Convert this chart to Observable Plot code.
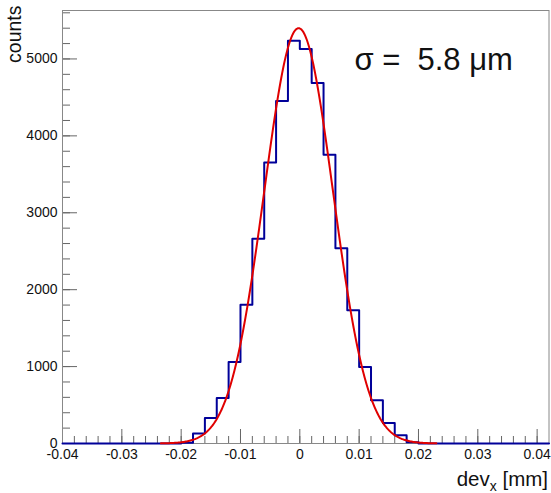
<!DOCTYPE html>
<html><head><meta charset="utf-8">
<script src="https://cdn.jsdelivr.net/npm/d3@7"></script>
<script src="https://cdn.jsdelivr.net/npm/@observablehq/plot@0.6"></script>
<style>
body{margin:0;background:#fff;}
#chart svg{font-family:"Liberation Sans",Arial,Helvetica,sans-serif;background:#fff;}
</style></head><body><div id="chart"></div>
<script>
// histogram: 41 bins of width 0.002 mm starting at -0.04 mm
const binStart = -0.04;
const binWidth = 0.002;
const counts = [0,0,0,0,0,0,0,0,0,0,10,
  130,333,592,1060,1805,2662,3653,4454,5238,
  5130,4688,3753,2540,1731,995,562,268,108,15,
  0,0,0,0,0,0,0,0,0,0,0];
// gaussian fit parameters
const fitConstant = 5400;
const fitMean = -0.0002;
const fitSigma = 0.0058;
const fitRange = [-0.0234, 0.0230];
const sigmaLabel = "σ =\u00a0 5.8 μm";
// axes
const xMajor = [-0.04,-0.03,-0.02,-0.01,0,0.01,0.02,0.03,0.04];
const xMinor = d3.range(-20, 21).map(i => +(i * 0.002).toFixed(3));
const yMajor = [0,1000,2000,3000,4000,5000];
const yMinor = d3.range(0, 29).map(i => i * 200);

const edges = counts.map((_, i) => +(binStart + i * binWidth).toFixed(4));
const steps = counts.map((c, i) => ({x: edges[i], y: c}));
steps.push({x: +(binStart + counts.length * binWidth).toFixed(4), y: counts[counts.length - 1]});

const fitX = d3.range(0, 301).map(i => fitRange[0] + (fitRange[1] - fitRange[0]) * i / 300);
const fit = fitX.map(x => ({x, y: fitConstant * Math.exp(-0.5 * ((x - fitMean) / fitSigma) ** 2)}));

const W = 551, H = 493, mL = 62, mR = 2.5, mT = 10, mB = 50;
const plotW = W - mL - mR, plotH = H - mT - mB;
const axisColor = "#666";
const fmtX = d => d === 0 ? "0" : d.toFixed(2);

const chart = Plot.plot({
  width: W, height: H,
  marginLeft: mL, marginRight: mR, marginTop: mT, marginBottom: mB,
  style: {fontFamily: '"Liberation Sans", Arial, sans-serif', fontSize: "14px", color: "#111", background: "#fff"},
  x: {domain: [-0.04, 0.042], axis: null},
  y: {domain: [0, 5630], axis: null},
  marks: [
    Plot.ruleX(xMinor, {x: d => d, stroke: axisColor, insetTop: plotH - 7}),
    Plot.ruleX(xMajor, {x: d => d, stroke: axisColor, insetTop: plotH - 14}),
    Plot.axisX(xMajor, {tickSize: 0, tickPadding: 6, tickFormat: fmtX, fontSize: 14, fill: "#111", label: null}),
    Plot.ruleY(yMinor, {y: d => d, stroke: axisColor, insetRight: plotW - 8}),
    Plot.ruleY(yMajor, {y: d => d, stroke: axisColor, insetRight: plotW - 15}),
    Plot.axisY(yMajor, {tickSize: 0, tickPadding: 5, tickFormat: d => String(d), fontSize: 14, fill: "#111", label: null}),
    Plot.frame({stroke: "#888", strokeWidth: 1}),
    Plot.line(steps, {x: "x", y: "y", curve: "step-after", stroke: "#000099", strokeWidth: 2}),
    Plot.line(fit, {x: "x", y: "y", stroke: "#e00000", strokeWidth: 2}),
    Plot.text([sigmaLabel], {x: 0.0092, y: 4850, textAnchor: "start", lineAnchor: "bottom", fontSize: 31, fill: "#111"}),
    Plot.text(["counts"], {frameAnchor: "top-left", rotate: -90, textAnchor: "end", lineAnchor: "bottom", dx: -42, dy: -5, fontSize: 19.5, fill: "#111"})
  ]
});
document.getElementById("chart").appendChild(chart);

const svg = d3.select(chart);
const t = svg.append("text")
  .attr("x", 548).attr("y", 486)
  .attr("text-anchor", "end")
  .attr("fill", "#111")
  .style("font-size", "20.5px")
  .style("white-space", "pre");
t.append("tspan").text("dev");
t.append("tspan").attr("dy", 5).style("font-size", "14px").text("x");
t.append("tspan").attr("dy", -5).text(" [mm]");
</script></body></html>
